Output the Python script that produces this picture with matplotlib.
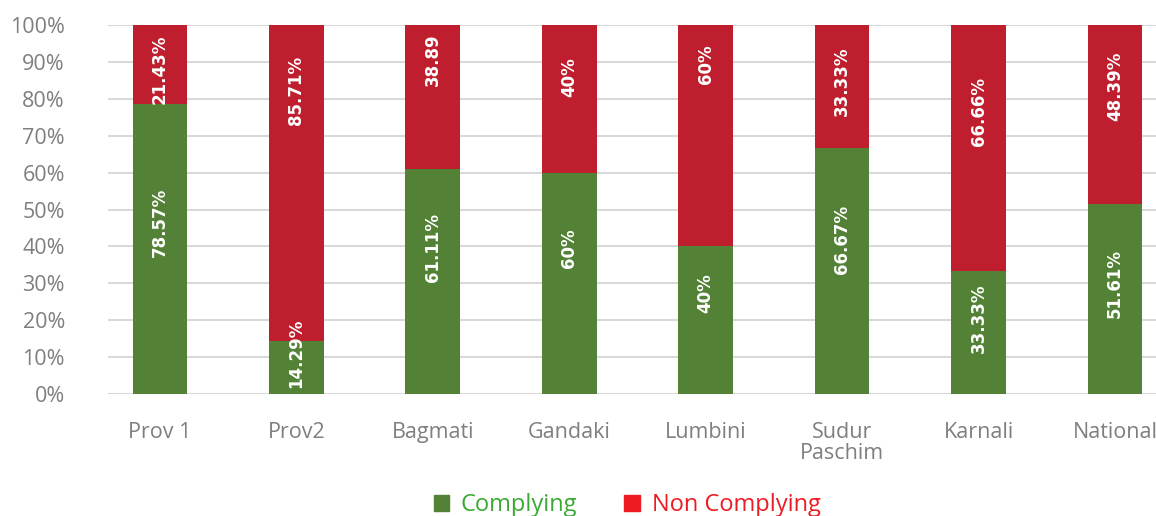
import numpy as np
import matplotlib.pyplot as plt
from matplotlib.patches import Patch

regions = ['Prov 1', 'Prov2', 'Bagmati', 'Gandaki', 'Lumbini', 'Sudur\nPaschim', 'Karnali', 'National']
complying = [78.57, 14.29, 61.11, 60, 40, 66.67, 33.33, 51.61]
non_complying = [21.43, 85.71, 38.89, 40, 60, 33.33, 66.66, 48.39]
complying_txt = ['78.57%', '14.29%', '61.11%', '60%', '40%', '66.67%', '33.33%', '51.61%']
non_complying_txt = ['21.43%', '85.71%', '38.89', '40%', '60%', '33.33%', '66.66%', '48.39%']
# where the labels sit in the source chart (value axis units)
complying_lab_y = [46.5, 11, 39.7, 39.5, 27.4, 42, 20.6, 30]
non_complying_lab_y = [88, 82.4, 90.6, 86, 89.4, 84.8, 76.5, 83.3]

green = '#538135'
red = '#BE1E2D'
grey = '#7F7F7F'

fig = plt.figure(figsize=(11.56, 5.16), dpi=100)
ax = fig.add_axes([108/1156, 1-394/516, (1156-108)/1156, 369/516])

x = np.arange(len(regions))
w = 0.40
ax.bar(x, complying, w, color=green, zorder=3)
ax.bar(x, non_complying, w, bottom=complying, color=red, zorder=3)

lab_font = dict(family='DejaVu Sans', weight='bold', size=12)
for i in range(len(regions)):
    ax.text(x[i], complying_lab_y[i], complying_txt[i], rotation=90, color='white',
            ha='center', va='center', zorder=4, **lab_font)
    ax.text(x[i], non_complying_lab_y[i], non_complying_txt[i], rotation=90, color='white',
            ha='center', va='center', zorder=4, **lab_font)

ax.set_ylim(0, 100)
ax.set_xlim(-0.38, 7.30)
ax.set_yticks(np.arange(0, 101, 10))
ax.set_yticklabels([f'{v}%' for v in range(0, 101, 10)])
ax.set_xticks(x)
ax.set_xticklabels(regions, linespacing=1.0)
ax.tick_params(axis='both', length=0, colors=grey, labelsize=15.5)
ax.tick_params(axis='y', pad=31)
ax.tick_params(axis='x', pad=20)
for lbl in ax.get_xticklabels() + ax.get_yticklabels():
    lbl.set_family('Open Sans')
ax.grid(axis='y', color='#D9D9D9', linewidth=1.5, zorder=0)
ax.set_axisbelow(True)
for s in ax.spines.values():
    s.set_visible(False)

handles = [Patch(color=green), Patch(color='#ED1C24')]
leg = fig.legend(handles, ['Complying', 'Non Complying'], loc='center',
                 bbox_to_anchor=(627/1156, 1-505/516), ncol=2, frameon=False,
                 prop={'family': 'Open Sans', 'size': 17},
                 handlelength=0.65, handleheight=0.65, handletextpad=0.5,
                 columnspacing=2.0)
for t, c in zip(leg.get_texts(), ['#3AAA35', '#ED1C24']):
    t.set_color(c)

fig.savefig('out.png', dpi=100)
